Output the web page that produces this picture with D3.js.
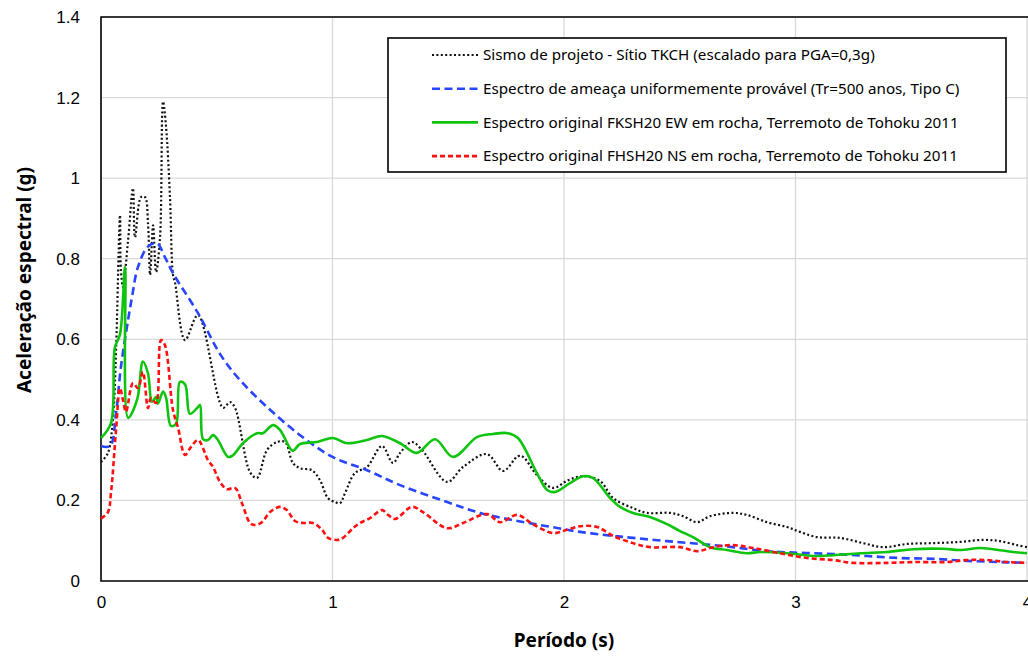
<!DOCTYPE html>
<html lang="pt">
<head>
<meta charset="utf-8">
<title>Espectros de resposta</title>
<script src="https://d3js.org/d3.v7.min.js"></script>
<style>
  body { margin: 0; background: #fff; }
  svg { display: block; font-family: "Liberation Sans Narrow", "Noto Sans", sans-serif; }
  .tick text { fill: #000; font-size: 17px; }
  .legend text { font-size: 15.2px; fill: #000; }
  .title { font-weight: bold; font-size: 19px; fill: #000; }
</style>
</head>
<body>
<div id="chart"></div>
<script>
// ---- data ----
var sismoT  = [0,0.03,0.052,0.065,0.082,0.086,0.095,0.117,0.138,0.147,0.173,0.19,0.203,0.212,0.225,0.238,0.255,0.268,0.281,0.298,0.311,0.32,0.363,0.419,0.527,0.557,0.579,0.644,0.674,0.717,0.76,0.795,0.829,0.86,0.911,0.946,0.98,1.011,1.032,1.054,1.097,1.149,1.214,1.261,1.292,1.343,1.387,1.495,1.564,1.667,1.737,1.801,1.823,1.883,1.952,2.017,2.082,2.156,2.212,2.298,2.359,2.458,2.514,2.575,2.631,2.73,2.79,2.877,2.963,3.019,3.093,3.192,3.292,3.378,3.482,3.594,3.711,3.81,3.883,3.957,4.0]
var sismoSa = [0.295,0.318,0.407,0.573,0.908,0.772,0.73,0.846,0.975,0.853,0.953,0.953,0.888,0.76,0.883,0.767,0.853,1.19,1.127,0.953,0.76,0.74,0.598,0.66,0.43,0.444,0.43,0.27,0.256,0.325,0.345,0.345,0.293,0.28,0.275,0.25,0.206,0.196,0.193,0.218,0.268,0.283,0.335,0.293,0.318,0.345,0.325,0.246,0.283,0.315,0.273,0.31,0.308,0.263,0.231,0.25,0.26,0.248,0.206,0.181,0.169,0.169,0.161,0.146,0.161,0.169,0.164,0.146,0.134,0.122,0.109,0.107,0.094,0.084,0.092,0.094,0.097,0.102,0.099,0.089,0.084]

var ameacaT  = [0,0.039,0.065,0.086,0.117,0.134,0.16,0.203,0.242,0.276,0.311,0.419,0.518,0.6,0.717,0.86,1.0,1.149,1.292,1.495,1.637,1.78,1.927,2.069,2.212,2.298,2.445,2.587,2.73,2.877,3.019,3.162,3.309,3.451,3.594,3.741,3.883,4.0]
var ameacaSa = [0.335,0.335,0.417,0.531,0.648,0.705,0.78,0.83,0.838,0.804,0.764,0.665,0.56,0.499,0.432,0.362,0.308,0.275,0.238,0.196,0.169,0.151,0.136,0.122,0.112,0.107,0.099,0.092,0.084,0.074,0.07,0.067,0.062,0.057,0.055,0.05,0.047,0.045]

var ewT  = [0,0.043,0.06,0.082,0.104,0.117,0.156,0.181,0.203,0.22,0.238,0.246,0.268,0.281,0.302,0.324,0.341,0.363,0.384,0.419,0.428,0.441,0.462,0.484,0.505,0.549,0.57,0.613,0.674,0.7,0.743,0.773,0.816,0.829,0.86,0.933,1.002,1.063,1.149,1.214,1.292,1.365,1.443,1.521,1.624,1.693,1.758,1.801,1.883,1.927,1.961,2.026,2.082,2.125,2.199,2.242,2.298,2.371,2.445,2.501,2.557,2.631,2.704,2.79,2.847,2.963,3.076,3.162,3.279,3.395,3.508,3.637,3.711,3.797,3.853,3.94,4.0]
var ewSa = [0.355,0.392,0.58,0.612,0.78,0.405,0.45,0.545,0.515,0.445,0.457,0.44,0.47,0.455,0.385,0.39,0.494,0.488,0.415,0.432,0.437,0.352,0.35,0.362,0.35,0.308,0.312,0.342,0.367,0.367,0.387,0.375,0.33,0.323,0.34,0.345,0.355,0.342,0.35,0.36,0.342,0.318,0.352,0.308,0.357,0.365,0.367,0.355,0.268,0.226,0.221,0.243,0.26,0.256,0.206,0.184,0.169,0.159,0.141,0.124,0.109,0.084,0.077,0.069,0.072,0.069,0.062,0.064,0.069,0.072,0.079,0.08,0.077,0.082,0.079,0.072,0.069]

var nsT  = [0,0.03,0.043,0.065,0.082,0.095,0.108,0.138,0.16,0.181,0.203,0.216,0.238,0.259,0.276,0.311,0.333,0.363,0.389,0.419,0.462,0.484,0.514,0.544,0.579,0.609,0.644,0.665,0.695,0.73,0.773,0.803,0.838,0.873,0.916,0.955,0.981,1.024,1.045,1.089,1.119,1.162,1.214,1.24,1.27,1.343,1.391,1.495,1.564,1.667,1.724,1.797,1.866,1.952,2.013,2.069,2.143,2.212,2.298,2.371,2.501,2.575,2.644,2.73,2.816,2.933,3.05,3.162,3.248,3.395,3.508,3.654,3.741,3.827,3.914,4.0]
var nsSa = [0.155,0.171,0.218,0.375,0.479,0.449,0.42,0.491,0.479,0.519,0.429,0.454,0.442,0.598,0.586,0.424,0.38,0.313,0.333,0.35,0.3,0.283,0.246,0.228,0.231,0.193,0.144,0.139,0.146,0.171,0.184,0.176,0.149,0.144,0.144,0.127,0.107,0.102,0.107,0.131,0.144,0.156,0.176,0.164,0.154,0.184,0.171,0.131,0.144,0.166,0.146,0.164,0.141,0.119,0.127,0.136,0.134,0.112,0.094,0.084,0.084,0.074,0.084,0.089,0.082,0.069,0.057,0.052,0.045,0.045,0.047,0.047,0.052,0.052,0.047,0.045]

var seriesNames = [
  "Sismo de projeto - Sítio TKCH (escalado para PGA=0,3g)",
  "Espectro de ameaça uniformemente provável (Tr=500 anos, Tipo C)",
  "Espectro original FKSH20 EW em rocha, Terremoto de Tohoku 2011",
  "Espectro original FHSH20 NS em rocha, Terremoto de Tohoku 2011"
]
var xTicks = [0, 1, 2, 3, 4]
var xTickLabels = ["0", "1", "2", "3", "4"]
var yTicks = [0, 0.2, 0.4, 0.6, 0.8, 1, 1.2, 1.4]
var yTickLabels = ["0", "0.2", "0.4", "0.6", "0.8", "1", "1.2", "1.4"]

// ---- chart ----
function drawChart(){
  var w = 1028, h = 657
  var pLeft = 101, pRight = 1027, pTop = 17, pBottom = 581

  var svg = d3.select("#chart").append("svg").attr("width", w).attr("height", h)

  var x = d3.scaleLinear().domain([0, 4]).range([pLeft, pRight])
  var y = d3.scaleLinear().domain([0, 1.4]).range([pBottom, pTop])

  // gridlines
  svg.append("g").selectAll("line").data(yTicks.slice(1)).enter().append("line")
    .attr("x1", pLeft).attr("x2", w).attr("y1", function(d){ return y(d) }).attr("y2", function(d){ return y(d) })
    .attr("stroke", "#d9d9d9").attr("stroke-width", 1.3)
  svg.append("g").selectAll("line").data(xTicks.slice(1)).enter().append("line")
    .attr("x1", function(d){ return x(d) }).attr("x2", function(d){ return x(d) }).attr("y1", pTop).attr("y2", pBottom)
    .attr("stroke", "#d9d9d9").attr("stroke-width", 1.3)

  // axes (labels only, no tick marks)
  var yAxis = svg.append("g").attr("transform", "translate(" + pLeft + ",0)")
    .call(d3.axisLeft(y).tickValues(yTicks).tickFormat(function(d, i){ return yTickLabels[i] }).tickSize(0).tickPadding(21))
  yAxis.select(".domain").remove()
  yAxis.selectAll("text").style("font-family", "inherit")
  var xAxis = svg.append("g").attr("transform", "translate(0," + pBottom + ")")
    .call(d3.axisBottom(x).tickValues(xTicks).tickFormat(function(d, i){ return xTickLabels[i] }).tickSize(0).tickPadding(15))
  xAxis.select(".domain").remove()
  xAxis.selectAll("text").style("font-family", "inherit")

  // plot frame
  svg.append("path").attr("d", "M" + w + "," + pTop + "H" + pLeft + "V" + pBottom + "H" + w)
    .attr("fill", "none").attr("stroke", "#000").attr("stroke-width", 1.6)

  // series
  var styles = [
    { color: "#111", width: 2.2, dash: "2,2.4" },
    { color: "#2846ff", width: 2.6, dash: "8,4.5" },
    { color: "#0fc40f", width: 2.6, dash: null },
    { color: "#ff1010", width: 2.6, dash: "5,3" }
  ]
  var allT = [sismoT, ameacaT, ewT, nsT]
  var allSa = [sismoSa, ameacaSa, ewSa, nsSa]

  var line = d3.line()
    .x(function(d){ return x(d[0]) })
    .y(function(d){ return y(d[1]) })
    .curve(d3.curveCatmullRom.alpha(0.5))

  var plot = svg.append("g")
  allT.forEach(function(ts, k){
    var pts = ts.map(function(t, i){ return [t, allSa[k][i]] })
    plot.append("path").datum(pts)
      .attr("d", line)
      .attr("fill", "none")
      .attr("stroke", styles[k].color)
      .attr("stroke-width", styles[k].width)
      .attr("stroke-dasharray", styles[k].dash)
      .attr("stroke-linejoin", "round")
  })

  // legend
  var lg = svg.append("g").attr("class", "legend")
  lg.append("rect").attr("x", 388).attr("y", 38).attr("width", 618).attr("height", 134)
    .attr("fill", "#fff").attr("stroke", "#000").attr("stroke-width", 1.6)
  seriesNames.forEach(function(name, k){
    var ly = 55 + k * 33.7
    lg.append("line").attr("x1", 432).attr("x2", 478).attr("y1", ly).attr("y2", ly)
      .attr("stroke", styles[k].color).attr("stroke-width", styles[k].width)
      .attr("stroke-dasharray", styles[k].dash)
    lg.append("text").attr("x", 483).attr("y", ly).attr("dy", "0.35em").text(name)
  })

  // axis titles
  svg.append("text").attr("class", "title")
    .attr("transform", "translate(24,280) rotate(-90)")
    .attr("text-anchor", "middle").attr("dy", "0.35em")
    .text("Aceleração espectral (g)")
  svg.append("text").attr("class", "title")
    .attr("x", 564).attr("y", 640).attr("text-anchor", "middle").attr("dy", "0.35em")
    .text("Período (s)")
}
drawChart()
</script>
</body>
</html>
